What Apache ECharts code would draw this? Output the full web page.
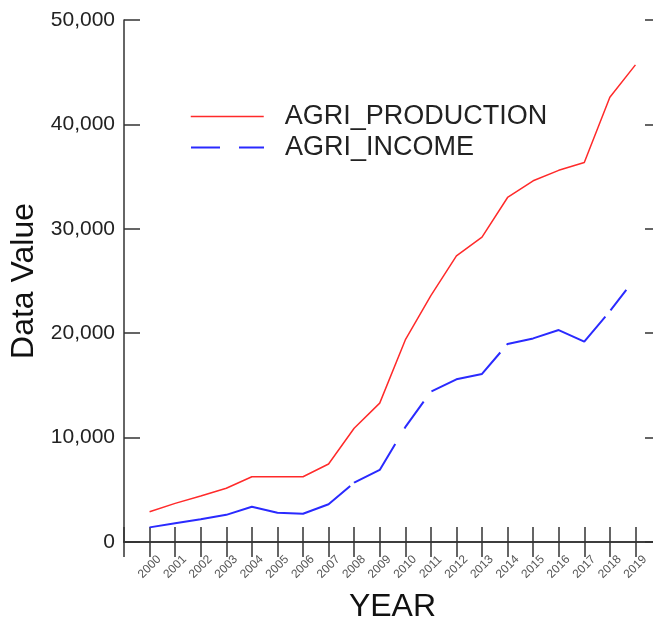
<!DOCTYPE html>
<html>
  <head>
    <meta charset="UTF-8" />
    <title></title>
    <style type="text/css">
      * {
        margin: 0;
        padding: 0;
      }
      #main {
        width: 653px;
        height: 619px;
        background-color: #fff;
      }
    </style>
  </head>
  <body>
    <div id="main"></div>
  </body>
  <script src="https://cdn.jsdelivr.net/npm/echarts@6/dist/echarts.min.js"></script>
  <script type="text/javascript">
    // data
    var years = [2000, 2001, 2002, 2003, 2004, 2005, 2006, 2007, 2008, 2009,
      2010, 2011, 2012, 2013, 2014, 2015, 2016, 2017, 2018, 2019]
    var production = [2900, 3700, 4400, 5150, 6250, 6250, 6250, 7470, 10900, 13300,
      19350, 23600, 27400, 29200, 33000, 34600, 35600, 36350, 42600, 45700]
    var income = [1400, 1800, 2170, 2600, 3380, 2810, 2710, 3610, 5680, 6900,
      11000, 14400, 15580, 16100, 18970, 19500, 20300, 19200, 22100, 25300]
    var yTicks = [0, 10000, 20000, 30000, 40000, 50000]

    var font = 'Liberation Sans'
    var axisColor = '#333'
    var red = '#ff2a2a'
    var blue = '#2a2aff'

    function pairs(vals) {
      return years.map((y, i) => [y, vals[i]])
    }

    function legendBox(name, top, lineStyle) {
      return {
        orient: 'vertical',
        left: 185,
        top: top,
        itemWidth: 73,
        itemHeight: 26,
        itemStyle: { opacity: 0 },
        lineStyle: lineStyle,
        textStyle: {
          fontFamily: font,
          fontSize: 27,
          color: '#222',
          padding: [0, 0, 0, 16]
        },
        data: [name]
      }
    }

    var myCharts = echarts.init(document.getElementById('main'))
    var option = {
      animation: false,
      grid: { left: 124, right: -8, top: 20, bottom: 77, outerBoundsMode: 'none' },
      legend: [
        legendBox('AGRI_PRODUCTION', 98, { width: 1.5 }),
        legendBox('AGRI_INCOME', 129, { width: 2, type: [29, 19] })
      ],
      xAxis: [
        {
          type: 'value',
          min: 1999,
          max: 2020,
          interval: 1,
          name: 'YEAR',
          nameLocation: 'middle',
          nameGap: 49,
          nameTextStyle: { fontFamily: font, fontSize: 32, color: '#111' },
          axisLine: { lineStyle: { color: axisColor, width: 1.5 } },
          axisTick: { inside: true, length: 15, lineStyle: { color: axisColor, width: 1.5 } },
          axisLabel: {
            rotate: 45,
            align: 'center',
            verticalAlign: 'middle',
            margin: 25,
            fontFamily: font,
            fontSize: 12,
            color: '#555',
            formatter: function (v) {
              return years.indexOf(v) >= 0 ? String(v) : ''
            }
          },
          splitLine: { show: false }
        },
        {
          type: 'value',
          position: 'top',
          min: 1999,
          max: 2020,
          interval: 1,
          axisLine: { lineStyle: { color: axisColor, width: 1.5 } },
          axisTick: { inside: true, length: 15, lineStyle: { color: axisColor, width: 1.5 } },
          axisLabel: { show: false },
          splitLine: { show: false }
        }
      ],
      yAxis: [
        {
          type: 'value',
          min: yTicks[0],
          max: yTicks[yTicks.length - 1],
          interval: 10000,
          name: 'Data Value',
          nameLocation: 'middle',
          nameGap: 74,
          nameTextStyle: { fontFamily: font, fontSize: 32, color: '#111' },
          axisLine: { show: true, lineStyle: { color: axisColor, width: 1.5 } },
          axisTick: { show: true, inside: true, length: 16, lineStyle: { color: axisColor, width: 1.5 } },
          axisLabel: {
            margin: 9,
            fontFamily: font,
            fontSize: 21,
            color: '#222',
            formatter: function (v) {
              return v.toLocaleString('en-US')
            }
          },
          splitLine: { show: false }
        },
        {
          type: 'value',
          position: 'right',
          min: yTicks[0],
          max: yTicks[yTicks.length - 1],
          interval: 10000,
          axisLine: { show: true, lineStyle: { color: axisColor, width: 1.5 } },
          axisTick: { show: true, inside: true, length: 16, lineStyle: { color: axisColor, width: 1.5 } },
          axisLabel: { show: false },
          splitLine: { show: false }
        }
      ],
      series: [
        {
          name: 'AGRI_PRODUCTION',
          type: 'line',
          symbol: 'none',
          data: pairs(production),
          itemStyle: { color: red },
          lineStyle: { color: red, width: 1.5 }
        },
        {
          name: 'AGRI_INCOME',
          type: 'line',
          symbol: 'none',
          data: pairs(income),
          itemStyle: { color: blue },
          lineStyle: { color: blue, width: 2, type: [212, 5, 59, 18, 33, 13, 82, 10, 115, 8, 26, 16] }
        }
      ]
    }
    myCharts.setOption(option)
  </script>
</html>
